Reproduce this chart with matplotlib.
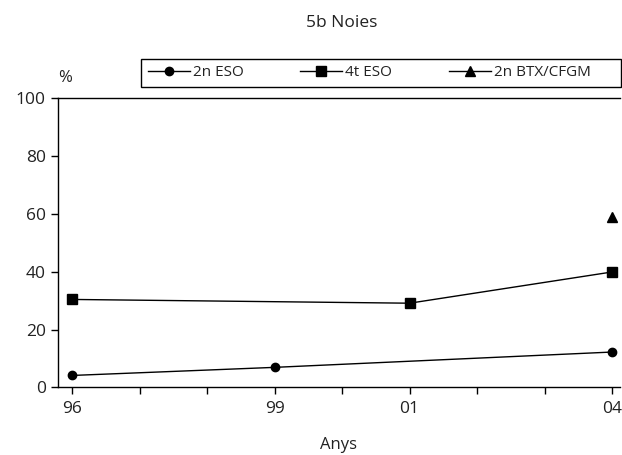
import matplotlib
matplotlib.use('Agg')
import matplotlib.pyplot as plt
from matplotlib.patches import Rectangle

plt.rcParams['font.family'] = ['Open Sans', 'DejaVu Sans']

# data
years = ['96', '97', '98', '99', '00', '01', '02', '03', '04']
labelled_years = ['96', '99', '01', '04']

eso2_years = ['96', '99', '04']
eso2_vals = [4.1, 6.9, 12.2]

eso4_years = ['96', '01', '04']
eso4_vals = [30.4, 29.1, 39.9]

btx_years = ['04']
btx_vals = [58.8]

yticks = [0, 20, 40, 60, 80, 100]

W, H = 622, 455
fig = plt.figure(figsize=(W / 100, H / 100), dpi=100)
ax = fig.add_axes([57.5 / W, 1 - 387.3 / H, (620 - 57.5) / W, (387.3 - 98.3) / H])

pos = {y: i for i, y in enumerate(years)}

ax.plot([pos[y] for y in eso2_years], eso2_vals, color='black', lw=1.0,
        marker='o', ms=6, label='2n ESO')
ax.plot([pos[y] for y in eso4_years], eso4_vals, color='black', lw=1.0,
        marker='s', ms=6.5, label='4t ESO')
ax.plot([pos[y] for y in btx_years], btx_vals, color='black', lw=1.0,
        marker='^', ms=6.5, label='2n BTX/CFGM')

ax.set_xlim(-0.219, 8.119)
ax.set_ylim(0, 100)
ax.set_xticks(range(len(years)))
ax.set_xticklabels([y if y in labelled_years else '' for y in years])
ax.set_yticks(yticks)

for s in ['left', 'bottom', 'top']:
    ax.spines[s].set_linewidth(1.0)
ax.spines['right'].set_visible(False)
ax.tick_params(axis='both', direction='out', length=5, width=1.0,
               labelsize=12.5, colors='black', labelcolor='#222222')
ax.tick_params(axis='x', pad=5)

ax.set_xlabel('Anys', fontsize=12, color='#222222', labelpad=14)
fig.text(65 / W, 1 - 78 / H, '%', fontsize=12, color='#222222',
         ha='center', va='center')
fig.text(342 / W, 1 - 23 / H, '5b Noies', fontsize=12.5, color='#222222',
         ha='center', va='center')

# legend box spans wider than its entries in the reference
fig.patches.append(Rectangle((141 / W, 1 - 87 / H), (621 - 141) / W, 28 / H,
                             transform=fig.transFigure, fill=False,
                             edgecolor='black', lw=1.0))
leg = fig.legend(loc='center left', bbox_to_anchor=(141 / W, 1 - 73 / H),
                 ncol=3, frameon=False, fontsize=11,
                 handlelength=2.75, handletextpad=0.2, columnspacing=3.7,
                 borderpad=0, borderaxespad=0.45)
for t in leg.get_texts():
    t.set_color('#222222')

fig.savefig('out.png', dpi=100)
